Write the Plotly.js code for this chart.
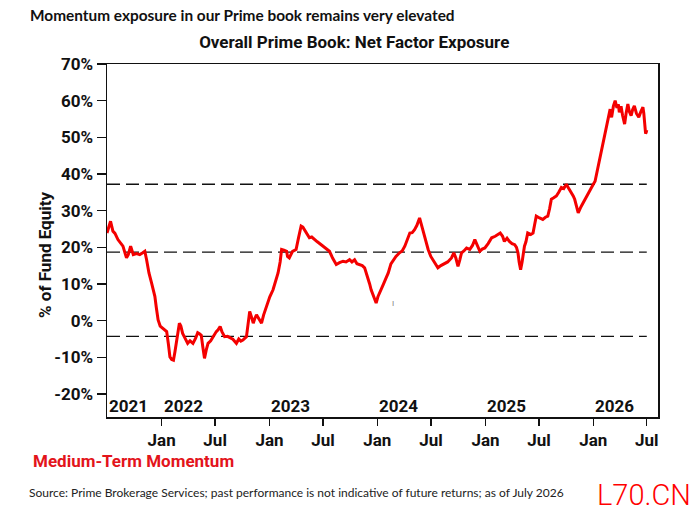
<!DOCTYPE html>
<html>
<head>
<meta charset="utf-8">
<script src="https://cdn.plot.ly/plotly-3.0.1.min.js"></script>
<style>
  html, body { margin: 0; padding: 0; background: #ffffff; }
  #chart { width: 696px; height: 514px; }
</style>
</head>
<body>
<div id="chart"></div>
<script>
// ---- Data ----
const dates = [
  '2021-06-30','2021-07-05','2021-07-12','2021-07-20','2021-07-27','2021-08-06','2021-08-15','2021-08-23',
  '2021-09-04','2021-09-10','2021-09-18','2021-09-27','2021-10-08','2021-10-19','2021-10-29','2021-11-05',
  '2021-11-11','2021-11-19','2021-11-28','2021-12-03','2021-12-09','2021-12-14','2021-12-20','2021-12-27',
  '2022-01-06','2022-01-18','2022-01-24','2022-01-29','2022-02-04','2022-02-10','2022-02-15','2022-02-21',
  '2022-02-27','2022-03-02','2022-03-07','2022-03-13','2022-03-21','2022-03-30','2022-04-07','2022-04-17',
  '2022-04-26','2022-05-03','2022-05-09','2022-05-15','2022-05-20','2022-05-26','2022-06-01','2022-06-07',
  '2022-06-16','2022-06-24','2022-07-05','2022-07-11','2022-07-18','2022-07-24','2022-08-02','2022-08-12',
  '2022-08-21','2022-08-30','2022-09-11','2022-09-19','2022-09-26','2022-10-03','2022-10-15','2022-10-21',
  '2022-10-26','2022-11-01','2022-11-07','2022-11-12','2022-11-18','2022-11-26','2022-12-05','2022-12-12',
  '2022-12-22','2023-01-02','2023-01-13','2023-01-23','2023-01-30','2023-02-06','2023-02-11','2023-02-19',
  '2023-02-28','2023-03-03','2023-03-09','2023-03-20','2023-04-01','2023-04-09','2023-04-18','2023-04-24',
  '2023-04-29','2023-05-07','2023-05-16','2023-05-24','2023-06-02','2023-06-12','2023-06-25','2023-07-09',
  '2023-07-23','2023-08-03','2023-08-15','2023-08-26','2023-09-07','2023-09-17','2023-09-29','2023-10-07',
  '2023-10-16','2023-10-24','2023-11-02','2023-11-11','2023-11-19','2023-11-25','2023-11-30','2023-12-06',
  '2023-12-11','2023-12-19','2023-12-28','2024-01-03','2024-01-09','2024-01-21','2024-01-30','2024-02-07',
  '2024-02-16','2024-02-24','2024-03-04','2024-03-16','2024-03-25','2024-04-03','2024-04-11','2024-04-20',
  '2024-04-28','2024-05-06','2024-05-14','2024-05-23','2024-05-28','2024-06-03','2024-06-11','2024-06-21',
  '2024-06-30','2024-07-07','2024-07-16','2024-07-24','2024-08-03','2024-08-16','2024-08-26','2024-09-08',
  '2024-09-16','2024-09-23','2024-09-30','2024-10-06','2024-10-12','2024-10-20','2024-10-29','2024-11-09',
  '2024-11-18','2024-11-26','2024-12-04','2024-12-13','2024-12-21','2024-12-30','2025-01-10','2025-01-22',
  '2025-02-03','2025-02-11','2025-02-20','2025-02-28','2025-03-06','2025-03-15','2025-03-23','2025-04-01',
  '2025-04-10','2025-04-16','2025-04-21','2025-04-25','2025-04-30','2025-05-05','2025-05-10','2025-05-13',
  '2025-05-18','2025-05-24','2025-06-03','2025-06-11','2025-06-16','2025-06-22','2025-07-03','2025-07-14',
  '2025-07-23','2025-07-31','2025-08-06','2025-08-12','2025-08-20','2025-08-29','2025-09-06','2025-09-15',
  '2025-09-23','2025-10-02','2025-10-10','2025-10-19','2025-10-25','2025-10-30','2025-11-05','2025-11-11',
  '2025-11-20','2025-11-28','2025-12-06','2025-12-14','2025-12-23','2026-01-01','2026-01-07','2026-01-12',
  '2026-01-18','2026-01-24','2026-01-29','2026-02-04','2026-02-10','2026-02-16','2026-02-21','2026-02-27',
  '2026-03-01','2026-03-04','2026-03-10','2026-03-16','2026-03-22','2026-03-27','2026-03-30','2026-04-05',
  '2026-04-10','2026-04-17','2026-04-22','2026-04-28','2026-05-03','2026-05-09','2026-05-14','2026-05-20',
  '2026-05-27','2026-06-04','2026-06-11','2026-06-18','2026-06-21','2026-06-24','2026-06-27','2026-06-29',
  '2026-07-01'
];
const momentum = [
  23.9, 25.0, 27.1, 24.4, 23.8, 22.1, 21.0, 20.3,
  17.1, 18.0, 20.3, 18.0, 18.3, 18.0, 18.5, 18.9,
  16.6, 13.0, 10.2, 8.5, 6.6, 3.5, 0.2, -1.5,
  -2.1, -3.0, -6.5, -9.9, -10.6, -10.8, -8.5, -5.3,
  -2.5, -0.7, -1.5, -3.5, -4.8, -6.2, -5.5, -6.2,
  -4.8, -3.3, -3.6, -4.0, -7.0, -10.3, -8.0, -6.2,
  -5.5, -4.4, -3.0, -2.5, -1.6, -3.0, -4.4, -4.3,
  -4.8, -5.1, -6.2, -5.0, -5.6, -5.3, -4.4, -1.0,
  2.5, 1.0, -0.7, 0.5, 1.6, 0.5, -0.7, 1.5,
  3.8, 6.5, 8.4, 11.0, 13.0, 16.0, 19.4, 19.2,
  18.9, 17.5, 17.1, 18.9, 19.4, 22.5, 25.8, 25.5,
  24.8, 23.5, 22.6, 22.8, 22.1, 21.5, 20.7, 19.8,
  18.9, 17.0, 15.3, 15.8, 16.2, 16.0, 16.6, 16.0,
  16.6, 15.5, 15.3, 15.0, 14.4, 13.0, 11.6, 10.0,
  8.4, 6.5, 4.8, 6.5, 7.5, 9.8, 11.5, 13.0,
  15.5, 16.6, 17.5, 18.5, 19.0, 20.3, 22.0, 23.9,
  24.0, 24.8, 26.0, 28.0, 26.5, 24.8, 22.0, 19.4,
  17.5, 16.6, 15.2, 14.4, 15.0, 15.7, 16.0, 17.1,
  18.5, 17.0, 14.8, 16.5, 18.5, 19.0, 19.8, 19.4,
  20.5, 22.1, 20.5, 18.9, 19.5, 19.8, 21.0, 22.6,
  23.0, 23.5, 23.9, 23.0, 21.6, 22.5, 21.6, 21.0,
  20.7, 20.0, 18.5, 16.0, 13.9, 16.0, 18.5, 20.3,
  21.5, 23.9, 23.5, 23.9, 26.0, 28.5, 28.0, 27.6,
  28.2, 28.5, 30.5, 33.1, 33.5, 34.0, 35.0, 36.3,
  36.0, 37.2, 36.0, 34.9, 34.0, 33.1, 31.0, 29.4,
  31.0, 32.2, 33.5, 34.9, 36.0, 37.2, 38.0, 39.9,
  42.0, 44.9, 46.5, 48.6, 51.0, 53.6, 55.5, 57.7,
  56.0, 55.5, 58.5, 60.0, 58.0, 59.0, 56.8, 58.5,
  56.0, 53.6, 56.5, 59.1, 57.0, 55.9, 57.5, 58.6,
  56.5, 55.5, 57.0, 58.2, 56.5, 52.2, 51.0, 51.3,
  52.0
];
// dashed reference levels
const levelValues = [37.2, 18.7, -4.3];
const levelSpan = ['2021-06-30', '2026-07-01'];

// tick / label text
const tickDates = ['2022-01-01','2022-07-01','2023-01-01','2023-07-01','2024-01-01','2024-07-01',
                   '2025-01-01','2025-07-01','2026-01-01','2026-07-01'];
const tickLabels = ['Jan','Jul','Jan','Jul','Jan','Jul','Jan','Jul','Jan','Jul'];
const yearLabels = ['2021','2022','2023','2024','2025','2026'];
const yearLabelDates = ['2021-06-30','2022-01-01','2023-01-01','2024-01-01','2025-01-01','2026-01-01'];
const yTickVals = [-20, -10, 0, 10, 20, 30, 40, 50, 60, 70];
const yTickLabels = ['-20%', '-10%', '0%', '10%', '20%', '30%', '40%', '50%', '60%', '70%'];

// ---- Traces ----
const traces = levelValues.map(v => ({
  type: 'scatter', mode: 'lines',
  x: levelSpan, y: [v, v],
  line: { color: '#111111', width: 1.3, dash: '13px,6px' },
  hoverinfo: 'skip', showlegend: false
}));
traces.push({
  type: 'scatter', mode: 'lines',
  x: dates, y: momentum,
  line: { color: '#f40000', width: 3 },
  showlegend: false, name: 'Medium-Term Momentum'
});

const boldFont = 'Roboto, "Liberation Sans", Arial, sans-serif';

const annotations = yearLabels.map((t, i) => ({
  text: t, x: yearLabelDates[i], xref: 'x', y: 0.03, yref: 'paper',
  xanchor: 'left', yanchor: 'middle', showarrow: false,
  font: { family: boldFont, size: 17, color: '#111', weight: 700 }
}));
annotations.push(
  { text: '% of Fund Equity', textangle: -90,
    xref: 'paper', yref: 'paper', x: -0.1125, y: 0.459, xanchor: 'center', yanchor: 'middle',
    showarrow: false, font: { family: boldFont, size: 17, color: '#111', weight: 700 } },
  { text: 'Momentum exposure in our Prime book remains very elevated',
    xref: 'paper', yref: 'paper', x: -0.143, y: 1.138, xanchor: 'left', yanchor: 'middle',
    showarrow: false, font: { family: 'Lato, sans-serif', size: 15.4, color: '#111', weight: 700 } },
  { text: 'Medium-Term Momentum',
    xref: 'paper', yref: 'paper', x: -0.138, y: -0.126, xanchor: 'left', yanchor: 'middle',
    showarrow: false, font: { family: boldFont, size: 17, color: '#e3141b', weight: 700 } },
  { text: 'Source: Prime Brokerage Services; past performance is not indicative of future returns; as of July 2026',
    xref: 'paper', yref: 'paper', x: -0.145, y: -0.214, xanchor: 'left', yanchor: 'middle',
    showarrow: false, font: { family: 'Lato, sans-serif', size: 12, color: '#222' } },
  { text: 'L70.CN',
    xref: 'paper', yref: 'paper', x: 0.885, y: -0.22, xanchor: 'left', yanchor: 'middle',
    showarrow: false, font: { family: 'Roboto, sans-serif', size: 29, color: '#ff0000', weight: 300 } },
  { text: 'ı',
    xref: 'paper', yref: 'paper', x: 0.519, y: 0.323, xanchor: 'center', yanchor: 'middle',
    showarrow: false, font: { family: 'Roboto, sans-serif', size: 9, color: '#888' } }
);

const layout = {
  width: 696, height: 514,
  margin: { l: 107, r: 38, t: 64, b: 97 },
  paper_bgcolor: '#ffffff', plot_bgcolor: '#ffffff',
  title: {
    text: 'Overall Prime Book: Net Factor Exposure',
    xref: 'container', yref: 'container', x: 0.509, y: 0.918,
    xanchor: 'center', yanchor: 'middle',
    font: { family: boldFont, size: 17, color: '#111', weight: 700 }
  },
  xaxis: {
    type: 'date',
    range: ['2021-06-30', '2026-08-08'],
    tickmode: 'array', tickvals: tickDates, ticktext: tickLabels,
    ticks: 'outside', ticklen: 7, tickwidth: 1.3, tickcolor: '#111',
    showline: true, mirror: true, linecolor: '#111', linewidth: 1.5,
    showgrid: false, zeroline: false,
    tickfont: { family: boldFont, size: 17, color: '#111', weight: 700 }
  },
  yaxis: {
    range: [-26.3, 70],
    tickmode: 'array', tickvals: yTickVals, ticktext: yTickLabels,
    ticks: 'outside', ticklen: 9, tickwidth: 1.3, tickcolor: '#111',
    showline: true, mirror: true, linecolor: '#111', linewidth: 1.5,
    showgrid: false, zeroline: false,
    tickfont: { family: boldFont, size: 17, color: '#111', weight: 700 }
  },
  annotations: annotations,
  showlegend: false
};

Plotly.newPlot('chart', traces, layout, { staticPlot: true, displayModeBar: false });
</script>
</body>
</html>
